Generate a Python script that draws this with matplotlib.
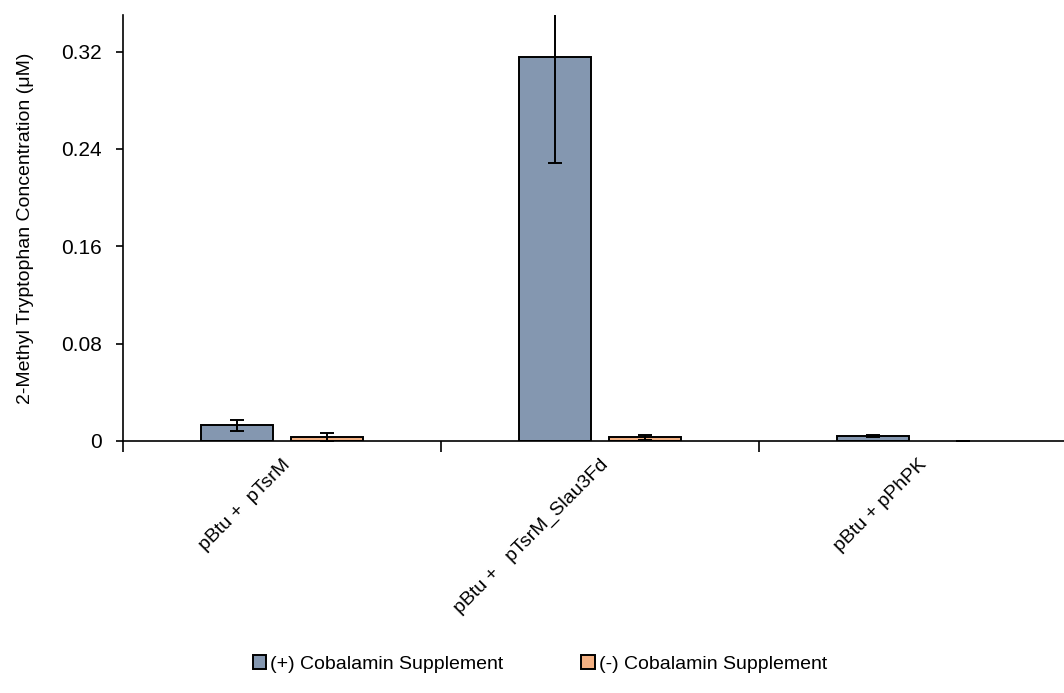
import matplotlib.pyplot as plt
import numpy as np

plt.rcParams['font.family'] = ['Liberation Sans', 'DejaVu Sans']

categories = ['pBtu +  pTsrM', 'pBtu +   pTsrM_Slau3Fd', 'pBtu + pPhPK']
series_names = ['(+) Cobalamin Supplement', '(-) Cobalamin Supplement']
plus_vals = [0.0128, 0.3158, 0.0040]
plus_err = [0.0045, 0.0870, 0.0008]
minus_vals = [0.0030, 0.0032, 0.0]
minus_err = [0.0035, 0.0020, 0.0]

blue = '#8497B0'
orange = '#F4B183'

fig = plt.figure(figsize=(10.64, 6.93), dpi=100)
# axis runs past the right edge of the figure
ax = fig.add_axes([123 / 1064, 1 - 441 / 693, (1077 - 123) / 1064, (441 - 15) / 693])

x = np.arange(len(categories))
w = 0.227
off = 0.142
ekw = dict(ecolor='black', elinewidth=1.4, capsize=5, capthick=1.4)
ax.bar(x - off, plus_vals, w, color=blue, edgecolor='black', linewidth=1.4,
       yerr=plus_err, error_kw=ekw, label=series_names[0], zorder=2)
ax.bar(x + off, minus_vals, w, color=orange, edgecolor='black',
       linewidth=[1.4 if v > 0 else 0 for v in minus_vals],
       yerr=minus_err, error_kw=ekw, label=series_names[1], zorder=2)

ax.set_xlim(-0.5, 2.5)
ax.set_ylim(0, 0.35)
ax.set_yticks([0, 0.08, 0.16, 0.24, 0.32])
ax.set_yticklabels(['0', '0.08', '0.16', '0.24', '0.32'])

ax.set_xticks([-0.5, 0.5, 1.5, 2.5])
ax.set_xticks(x, minor=True)
ax.set_xticklabels([])
ax.set_xticklabels(categories, minor=True, rotation=45, ha='right', va='top',
                   rotation_mode='anchor', fontsize=14)
ax.tick_params(axis='x', which='major', direction='out', length=8, width=1.2)
ax.tick_params(axis='x', which='minor', length=0, pad=11)
ax.tick_params(axis='y', direction='out', length=5, width=1.2, labelsize=15, pad=10)

for s in ['top', 'right']:
    ax.spines[s].set_visible(False)
for s in ['left', 'bottom']:
    ax.spines[s].set_linewidth(1.2)

ax.set_ylabel('2-Methyl Tryptophan Concentration (μM)', fontsize=14, labelpad=20)

fig.legend(loc='center', bbox_to_anchor=(540 / 1064, 1 - 664 / 693), ncol=2,
           frameon=False, fontsize=14, handlelength=0.7, handleheight=0.7,
           handletextpad=0.2, columnspacing=4.0)

fig.savefig('out.png', dpi=100)
